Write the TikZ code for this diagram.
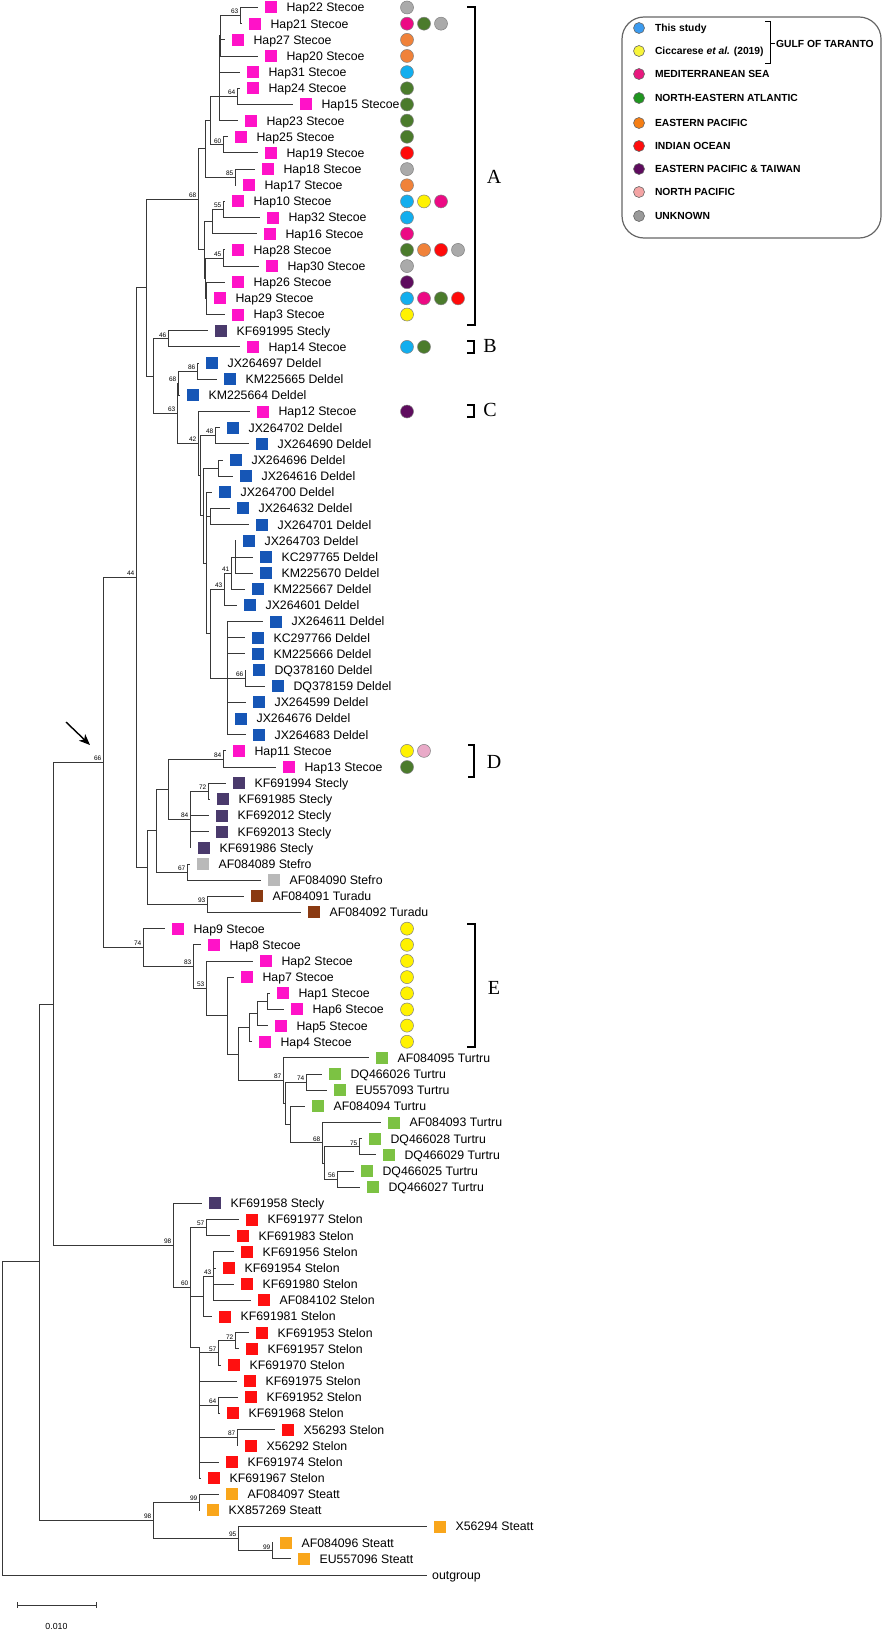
\documentclass[tikz,border=0pt]{standalone}
\usepackage{fontspec}
\setmainfont{Liberation Sans}
\newfontfamily\cladefont{Liberation Serif}
\usetikzlibrary{positioning, arrows.meta}

% species squares
\definecolor{stecoe}{HTML}{FF12C8}
\definecolor{deldel}{HTML}{1656B6}
\definecolor{stecly}{HTML}{4A3A6C}
\definecolor{stefro}{HTML}{B9B9B9}
\definecolor{turadu}{HTML}{8A3A12}
\definecolor{turtru}{HTML}{7CC243}
\definecolor{stelon}{HTML}{FF1010}
\definecolor{steatt}{HTML}{F9A61B}
% origin dots
\definecolor{study}{HTML}{12AEEE}
\definecolor{cicc}{HTML}{FFF200}
\definecolor{med}{HTML}{EC0A84}
\definecolor{nea}{HTML}{4B7B2C}
\definecolor{epac}{HTML}{F0823A}
\definecolor{ind}{HTML}{FF0A0A}
\definecolor{eptw}{HTML}{5E0C5E}
\definecolor{npac}{HTML}{E9AAC8}
\definecolor{unk}{HTML}{AAAAAA}
% legend dots
\definecolor{lgstudy}{HTML}{3C9BEF}
\definecolor{lgcicc}{HTML}{F8F53A}
\definecolor{lgmed}{HTML}{E8187E}
\definecolor{lgnea}{HTML}{1F961F}
\definecolor{lgepac}{HTML}{F57E14}
\definecolor{lgind}{HTML}{FF0D0D}
\definecolor{lgeptw}{HTML}{5E0B5E}
\definecolor{lgnpac}{HTML}{F4A4A4}
\definecolor{lgunk}{HTML}{9A9A9A}

\tikzset{
  branch/.style={draw=black!78, line width=0.9pt},
  sq/.style={rectangle, minimum size=12pt, inner sep=0pt},
  lab/.style={inner sep=0pt, text height=8.8pt, text depth=0pt, font=\fontsize{12.3}{14}\selectfont},
  boot/.style={anchor=south east, inner sep=0pt, xshift=-1.5pt, yshift=1.5pt, font=\fontsize{6.5}{7}\selectfont},
  dot/.style={circle, minimum size=13pt, inner sep=0pt, draw=black!50, line width=0.5pt},
  ldot/.style={circle, minimum size=11pt, inner sep=0pt, draw=black!60, line width=0.6pt},
  ltext/.style={inner sep=0pt, text height=7.4pt, text depth=0pt, font=\fontsize{10.3}{12}\bfseries\selectfont},
  clade/.style={inner sep=0pt, font=\cladefont\fontsize{20}{22}\selectfont},
  bracket/.style={draw=black, line width=1.2pt},
}

\begin{document}
\begin{tikzpicture}[x=1pt, y=-16.16pt]
\useasboundingbox (0,0.536) rectangle (886,101.4);

% Leaves
\foreach \nm/\tip/\rr/\col/\txt in {
  h22/258/1/stecoe/Hap22 Stecoe, h21/242/2/stecoe/Hap21 Stecoe,
  h27/225/3/stecoe/Hap27 Stecoe, h20/258/4/stecoe/Hap20 Stecoe,
  h31/240/5/stecoe/Hap31 Stecoe, h24/240/6/stecoe/Hap24 Stecoe,
  h15/293/7/stecoe/Hap15 Stecoe, h23/238/8/stecoe/Hap23 Stecoe,
  h25/228/9/stecoe/Hap25 Stecoe, h19/258/10/stecoe/Hap19 Stecoe,
  h18/255/11/stecoe/Hap18 Stecoe, h17/236/12/stecoe/Hap17 Stecoe,
  h10/225/13/stecoe/Hap10 Stecoe, h32/260/14/stecoe/Hap32 Stecoe,
  h16/257/15/stecoe/Hap16 Stecoe, h28/225/16/stecoe/Hap28 Stecoe,
  h30/259/17/stecoe/Hap30 Stecoe, h26/225/18/stecoe/Hap26 Stecoe,
  h29/207/19/stecoe/Hap29 Stecoe, h3/225/20/stecoe/Hap3 Stecoe,
  kf691995/208/21/stecly/KF691995 Stecly, h14/240/22/stecoe/Hap14 Stecoe,
  jx264697/199/23/deldel/JX264697 Deldel, km225665/217/24/deldel/KM225665 Deldel,
  km225664/180/25/deldel/KM225664 Deldel, h12/250/26/stecoe/Hap12 Stecoe,
  jx264702/220/27/deldel/JX264702 Deldel, jx264690/249/28/deldel/JX264690 Deldel,
  jx264696/223/29/deldel/JX264696 Deldel, jx264616/233/30/deldel/JX264616 Deldel,
  jx264700/212/31/deldel/JX264700 Deldel, jx264632/230/32/deldel/JX264632 Deldel,
  jx264701/249/33/deldel/JX264701 Deldel, jx264703/236/34/deldel/JX264703 Deldel,
  kc297765/253/35/deldel/KC297765 Deldel, km225670/253/36/deldel/KM225670 Deldel,
  km225667/245/37/deldel/KM225667 Deldel, jx264601/237/38/deldel/JX264601 Deldel,
  jx264611/263/39/deldel/JX264611 Deldel, kc297766/245/40/deldel/KC297766 Deldel,
  km225666/245/41/deldel/KM225666 Deldel, dq378160/246/42/deldel/DQ378160 Deldel,
  dq378159/265/43/deldel/DQ378159 Deldel, jx264599/246/44/deldel/JX264599 Deldel,
  jx264676/228/45/deldel/JX264676 Deldel, jx264683/246/46/deldel/JX264683 Deldel,
  h11/226/47/stecoe/Hap11 Stecoe, h13/276/48/stecoe/Hap13 Stecoe,
  kf691994/226/49/stecly/KF691994 Stecly, kf691985/210/50/stecly/KF691985 Stecly,
  kf692012/209/51/stecly/KF692012 Stecly, kf692013/209/52/stecly/KF692013 Stecly,
  kf691986/191/53/stecly/KF691986 Stecly, af084089/190/54/stefro/AF084089 Stefro,
  af084090/261/55/stefro/AF084090 Stefro, af084091/244/56/turadu/AF084091 Turadu,
  af084092/301/57/turadu/AF084092 Turadu,
  h9/165/58/stecoe/Hap9 Stecoe, h8/201/59/stecoe/Hap8 Stecoe,
  h2/253/60/stecoe/Hap2 Stecoe, h7/234/61/stecoe/Hap7 Stecoe,
  h1/270/62/stecoe/Hap1 Stecoe, h6/284/63/stecoe/Hap6 Stecoe,
  h5/268/64/stecoe/Hap5 Stecoe, h4/252/65/stecoe/Hap4 Stecoe,
  af084095/369/66/turtru/AF084095 Turtru, dq466026/322/67/turtru/DQ466026 Turtru,
  eu557093/327/68/turtru/EU557093 Turtru, af084094/305/69/turtru/AF084094 Turtru,
  af084093/381/70/turtru/AF084093 Turtru, dq466028/362/71/turtru/DQ466028 Turtru,
  dq466029/376/72/turtru/DQ466029 Turtru, dq466025/354/73/turtru/DQ466025 Turtru,
  dq466027/360/74/turtru/DQ466027 Turtru,
  kf691958/202/75/stecly/KF691958 Stecly,
  kf691977/239/76/stelon/KF691977 Stelon, kf691983/230/77/stelon/KF691983 Stelon,
  kf691956/234/78/stelon/KF691956 Stelon, kf691954/216/79/stelon/KF691954 Stelon,
  kf691980/234/80/stelon/KF691980 Stelon, af084102/251/81/stelon/AF084102 Stelon,
  kf691981/212/82/stelon/KF691981 Stelon, kf691953/249/83/stelon/KF691953 Stelon,
  kf691957/239/84/stelon/KF691957 Stelon, kf691970/221/85/stelon/KF691970 Stelon,
  kf691975/237/86/stelon/KF691975 Stelon, kf691952/238/87/stelon/KF691952 Stelon,
  kf691968/220/88/stelon/KF691968 Stelon, x56293/275/89/stelon/X56293 Stelon,
  x56292/238/90/stelon/X56292 Stelon, kf691974/219/91/stelon/KF691974 Stelon,
  kf691967/201/92/stelon/KF691967 Stelon,
  af084097/219/93/steatt/AF084097 Steatt, kx857269/200/94/steatt/KX857269 Steatt,
  x56294/427/95/steatt/X56294 Steatt, af084096/273/96/steatt/AF084096 Steatt,
  eu557096/291/97/steatt/EU557096 Steatt}{
  \coordinate (\nm) at (\tip,\rr);
  \node[sq, fill=\col, right=7pt of \nm] (\nm-sq) {};
  \node[lab, right=9pt of \nm-sq] (\nm-lab) {\txt};
}
\coordinate (outg) at (427,98);
\node[lab, right=5pt of outg] (outg-lab) {outgroup};

% Inner nodes with support values
\foreach \nm/\xx/\rr/\bs in {
  n63/240/1.5/63, n64/237/6.5/64, n60/223/9.5/60, n85/235/11.5/85,
  n55/223/13.5/55, n45/223/16.5/45, n68/198/12.875/68,
  n46/168/21.5/46, n86/197/23.5/86, n68b/178/24.25/68, n48/215/27.5/48,
  n41/231/36/41, n43/224/37/43, n66d/245/42.5/66, n42/198/27.95/42,
  n63b/177/26.1/63, n84a/223/47.5/84, n72/208/49.5/72, n84b/190/51.25/84,
  n67/187/54.5/67, n93/207/56.5/93, n44/136/36.28/44,
  n74b/306/67.5/74, n75/359/71.5/75, n56/337/73.5/56, n68c/322/71.25/68,
  n87/283/67.4/87, n53/206/61.7/53, n83/193/60.35/83, n74/143/59.17/74,
  n66/103/47.73/66, n57a/206/76.5/57, n43b/213/79.5/43, n72b/235/83.5/72,
  n57b/218/84.25/57, n64b/218/87.5/64, n87b/237/89.5/87, n60b/190/80.2/60,
  n98a/173/77.6/98, n99a/199/93.5/99, n99b/272/96.5/99, n95/238/95.75/95,
  n98b/153/94.6/98}{
  \coordinate (\nm) at (\xx,\rr);
  \node[boot] (\nm-bs) at (\nm) {\bs};
}
% Inner nodes without values
\foreach \nm/\xx/\rr in {
  pA1/220/2.75, pA2/219/6.5, pA3/210/8, pA4/205/9.75, pA5/212/14.25,
  pA7/206/19, pA6/205/17.75, pA8/204/16,
  nD1/218/29.5, nD2/210/32.5, nII/235/35, nKK/227/42.5, nJJ/210/39.75,
  nHH/206/35.4, nGG/203/32.45, nCC/200/29.97, nBB/153/23.8, nAA/146/18.34,
  nLL/168/49.375, nMM/156/51.94, nNN/147/54.22,
  nSS/267/62.5, nRR/257/63.25, nQQ/249/64.125, nVV/324/72.5, nUU/290/70.125,
  nTT/285/68.8, nPP/238/65.77, nOO/227/63.38,
  nXX/203/80.75, nZZ/199/83.9, nY/53/62.67, nX/39/78.6, root/2/88.3}
  \coordinate (\nm) at (\xx,\rr);

% Branches
\foreach \p/\kids in {
  n63/{h22,h21}, pA1/{n63,h27,h20}, n64/{h24,h15}, pA2/{pA1,h31,n64,h23},
  n60/{h25,h19}, pA3/{pA2,n60}, n85/{h18,h17}, pA4/{pA3,n85},
  n55/{h10,h32}, pA5/{n55,h16}, n45/{h28,h30}, pA7/{h26,h29,h3},
  pA6/{n45,pA7}, pA8/{pA5,pA6}, n68/{pA4,pA8},
  n46/{kf691995,h14}, n86/{jx264697,km225665}, n68b/{n86,km225664},
  n48/{jx264702,jx264690}, nD1/{jx264696,jx264616}, nD2/{jx264632,jx264701},
  nII/{jx264703,kc297765,km225670}, n41/{nII,km225667}, n43/{n41,jx264601},
  n66d/{dq378160,dq378159},
  nKK/{jx264611,kc297766,km225666,n66d,jx264599,jx264676,jx264683},
  nJJ/{n43,nKK}, nHH/{jx264700,nD2,nJJ}, nGG/{nD1,nHH}, nCC/{n48,nGG},
  n42/{h12,nCC}, n63b/{n68b,n42}, nBB/{n46,n63b}, nAA/{n68,nBB},
  n84a/{h11,h13}, n72/{kf691994,kf691985}, n84b/{n72,kf692012,kf692013,kf691986},
  nLL/{n84a,n84b}, n67/{af084089,af084090}, nMM/{nLL,n67},
  n93/{af084091,af084092}, nNN/{nMM,n93}, n44/{nAA,nNN},
  nSS/{h1,h6}, nRR/{nSS,h5}, nQQ/{nRR,h4}, n74b/{dq466026,eu557093},
  n75/{dq466028,dq466029}, n56/{dq466025,dq466027}, nVV/{n75,n56},
  n68c/{af084093,nVV}, nUU/{af084094,n68c}, nTT/{n74b,nUU},
  n87/{af084095,nTT}, nPP/{nQQ,n87}, nOO/{h7,nPP}, n53/{h2,nOO},
  n83/{h8,n53}, n74/{h9,n83}, n66/{n44,n74},
  n57a/{kf691977,kf691983}, n43b/{kf691956,kf691954,kf691980,af084102},
  nXX/{n43b,kf691981}, n72b/{kf691953,kf691957}, n57b/{n72b,kf691970},
  n64b/{kf691952,kf691968}, n87b/{x56293,x56292},
  nZZ/{n57b,kf691975,n64b,n87b,kf691974,kf691967}, n60b/{n57a,nXX,nZZ},
  n98a/{kf691958,n60b},
  n99a/{af084097,kx857269}, n99b/{af084096,eu557096}, n95/{x56294,n99b},
  n98b/{n99a,n95}, nY/{n66,n98a}, nX/{nY,n98b}, root/{nX,outg}}
  \foreach \k in \kids
    \draw[branch] (\p) |- (\k);

% Origin dots
\foreach \rr/\cols in {
  1/{unk}, 2/{med,nea,unk}, 3/{epac}, 4/{epac}, 5/{study}, 6/{nea}, 7/{nea},
  8/{nea}, 9/{nea}, 10/{ind}, 11/{unk}, 12/{epac}, 13/{study,cicc,med},
  14/{study}, 15/{med}, 16/{nea,epac,ind,unk}, 17/{unk}, 18/{eptw},
  19/{study,med,nea,ind}, 20/{cicc}, 22/{study,nea}, 26/{eptw},
  47/{cicc,npac}, 48/{nea}, 58/{cicc}, 59/{cicc}, 60/{cicc}, 61/{cicc},
  62/{cicc}, 63/{cicc}, 64/{cicc}, 65/{cicc}}
  \foreach \c [count=\i from 0] in \cols
    \node[dot, fill=\c] (dot\rr-\i) at ({407+17*\i},\rr) {};

% Pixel-based parts
\begin{scope}[y=-1pt, yshift=-8.66pt]
  % clade brackets
  \draw[bracket] (467,7) -- (475,7) -- (475,325) -- (467,325);
  \draw[bracket] (467,341) -- (474,341) -- (474,353) -- (467,353);
  \draw[bracket] (467,405) -- (474,405) -- (474,417) -- (467,417);
  \draw[bracket] (468,745) -- (474,745) -- (474,777) -- (468,777);
  \draw[bracket] (467,924) -- (475,924) -- (475,1047) -- (467,1047);
  \node[clade] (cladeA) at (494,177) {A};
  \node[clade] (cladeB) at (490,346) {B};
  \node[clade] (cladeC) at (490,410) {C};
  \node[clade] (cladeD) at (494,762) {D};
  \node[clade] (cladeE) at (494,988) {E};

  % arrow to the marked node
  \coordinate (arrS) at (66,722);
  \coordinate (arrE) at (90,745);
  \draw[line width=1.4pt, -{Stealth[length=11pt, width=9pt, inset=3pt]}] (arrS) -- (arrE);

  % scale bar
  \draw[branch] (17,1605) -- (96,1605);
  \draw[branch] (17,1602) -- (17,1608);
  \draw[branch] (96,1602) -- (96,1608);
  \node[inner sep=0pt, font=\fontsize{8.8}{10}\selectfont] (scale) at (56.5,1626) {0.010};

  % legend
  \draw[draw=black!60, line width=1.2pt, rounded corners=22pt] (622,17) rectangle (881,238);
  \foreach \c/\yy/\txt in {
    lgstudy/28/This study, lgcicc/51/{Ciccarese \textit{et al.} (2019)},
    lgmed/74/MEDITERRANEAN SEA, lgnea/98/NORTH-EASTERN ATLANTIC,
    lgepac/123/EASTERN PACIFIC, lgind/146/INDIAN OCEAN,
    lgeptw/169/EASTERN PACIFIC \& TAIWAN, lgnpac/192/NORTH PACIFIC,
    lgunk/216/UNKNOWN}{
    \node[ldot, fill=\c] (key-\c) at (639,\yy) {};
    \node[ltext, right=10pt of key-\c] (key-\c-txt) {\txt};
  }
  \draw[bracket, line width=1pt] (765,22) -- (770,22) -- (770,64) -- (765,64);
  \draw[bracket, line width=1pt] (770,44) -- (775,44);
  \node[ltext, anchor=west] (gulf) at (776,44) {GULF OF TARANTO};
\end{scope}
\end{tikzpicture}
\end{document}
